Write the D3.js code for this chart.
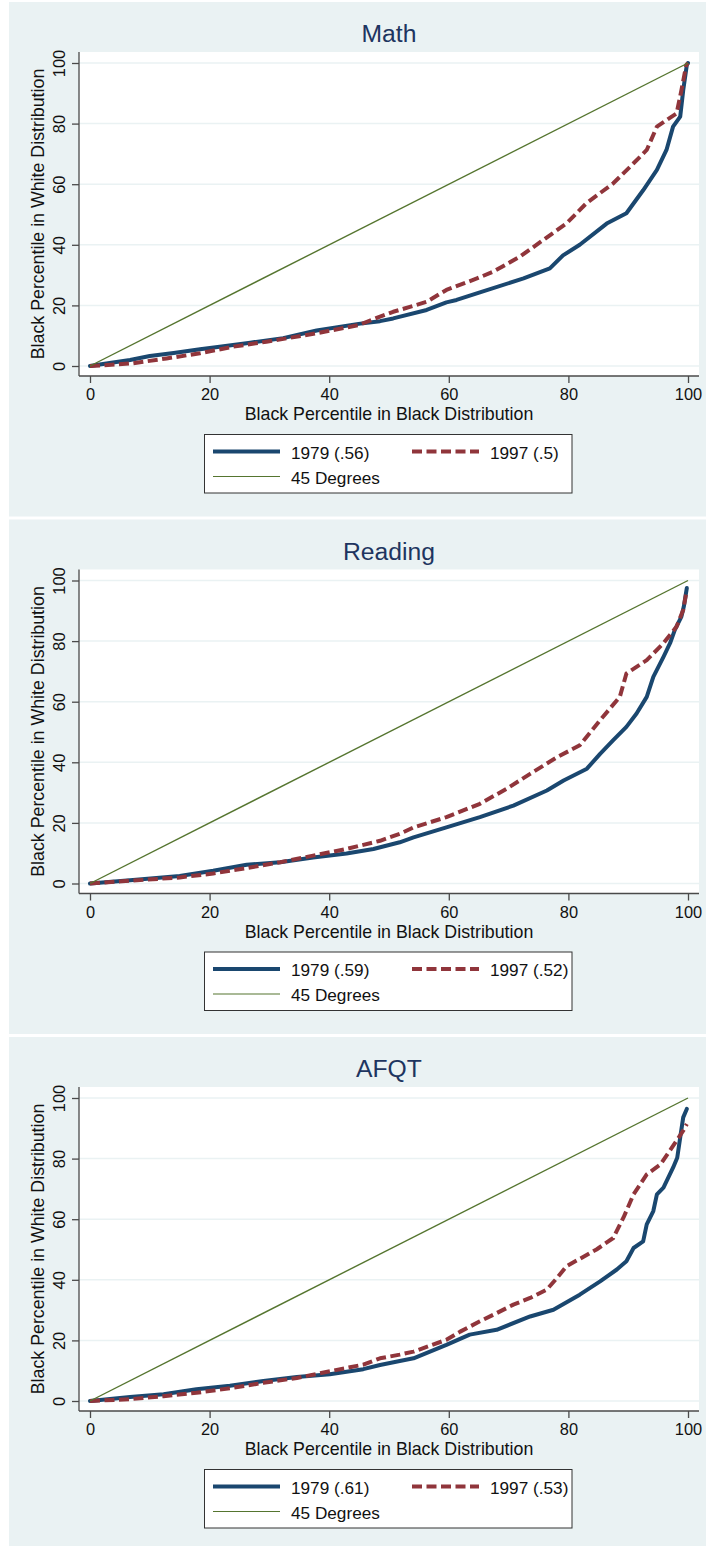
<!DOCTYPE html>
<html>
<head>
<meta charset="utf-8">
<script src="https://cdn.jsdelivr.net/npm/d3@7"></script>
<style>
  body { margin: 0; background: #fff; }
  svg { display: block; }
</style>
</head>
<body>
<div id="chart"></div>
<script>
// percentile pairs [black pct in black dist, black pct in white dist]
const math1979 = [[0,0],[3,0.9],[6.7,2],[10,3.3],[14,4.3],[18.4,5.5],[22,6.4],[26.8,7.7],[32.3,9.2],[37.9,11.7],[44.9,13.9],[48.5,14.8],[50.7,15.7],[56.3,18.5],[59.6,21],[61.3,21.8],[65.2,24.3],[72.5,28.9],[76.9,32.2],[79.1,36.5],[81.9,40],[86.4,47],[89.7,50.4],[92.5,58],[94.8,64.7],[96.4,71.3],[97.5,79],[98.7,82.3],[99.2,91],[99.8,99.3],[100,100]]
const math1997 = [[0,0],[3,0.3],[7.2,0.9],[12.8,2.5],[18.4,4.2],[24,6.4],[29.5,8],[37.9,10.8],[44.9,13.5],[48.5,16.3],[50.7,17.9],[54,19.8],[56.3,21.2],[59.6,25.1],[64.7,28.9],[67.4,31.1],[71.9,36.1],[75.8,41.6],[79.7,47.1],[83,53.7],[87.5,60.3],[90.9,66.9],[93.1,71.3],[94.8,79],[98.1,83.4],[98.9,91],[99.7,99.3],[100,100]]

const reading1979 = [[0,0],[6.7,1.1],[15,2.5],[20.6,4.2],[26.2,6.2],[31.8,7],[37.3,8.6],[42.9,9.9],[47.4,11.4],[51.8,13.6],[54.1,15.2],[59.6,18.5],[65.2,21.9],[70.8,25.7],[76.4,30.7],[79.2,34],[83.1,37.9],[85.3,42.8],[87.5,47.3],[89.7,51.7],[91.4,56.1],[93.1,61.6],[94.2,68.2],[95.9,74.8],[97,79.3],[97.8,83.7],[98.9,88.1],[99.3,91.4],[99.8,97.5]]
const reading1997 = [[0,0],[6.7,0.9],[15,2],[20.6,3.3],[26.2,5.1],[31.8,7],[37.3,9.2],[42.9,11.4],[48.5,14.1],[51.8,16.4],[54.1,18.5],[59.6,21.9],[65.2,26.3],[69.7,31.3],[73.6,36.2],[78.1,41.7],[81.9,45.6],[85.3,53.9],[88.6,61.6],[89.7,69.3],[93.1,73.7],[95.9,79.3],[98.1,84.8],[99.2,90.3],[99.7,95.8]]

const afqt1979 = [[0,0],[6.7,1.3],[12.3,2.2],[17.8,3.9],[23.4,5],[29,6.6],[34.6,7.9],[40.1,8.8],[45.7,10.5],[48.5,11.9],[51.8,13.2],[54.1,14.1],[59.6,18.5],[63.5,21.9],[68,23.5],[73.6,27.9],[77.5,30.1],[81.9,35.1],[85.3,39.5],[88.1,43.4],[89.7,46.1],[90.9,50.5],[92.5,52.7],[93.1,58.3],[94.2,62.7],[94.8,68.2],[95.9,70.4],[97.5,77],[98.2,80.3],[98.7,87],[99.2,93.6],[99.8,96.4]]
const afqt1997 = [[0,0],[6.7,0.6],[12.3,1.6],[17.8,2.7],[23.4,4.2],[29,6],[34.6,7.6],[40.1,9.8],[45.7,12],[48.5,14.1],[51.8,15.3],[54.1,16.3],[59.6,20.2],[61.9,22.9],[65.2,26.3],[68,29],[70.8,31.8],[73.6,34],[76.4,36.8],[78.1,40.6],[79.7,44.5],[84.7,50],[87.5,53.8],[89.2,60.5],[90.9,68.2],[93.1,74.8],[95.4,78.1],[97.5,84.2],[99.2,89.2],[99.8,91.4]]

const diagonal = [[0,0],[100,100]]

const titles = ['Math', 'Reading', 'AFQT']
const labels1979 = ['1979 (.56)', '1979 (.59)', '1979 (.61)']
const labels1997 = ['1997 (.5)', '1997 (.52)', '1997 (.53)']
const xTicks = [0, 20, 40, 60, 80, 100]
const yTicks = [0, 20, 40, 60, 80, 100]

const panels = titles.map((t, i) => ({
  title: t,
  s1979: [math1979, reading1979, afqt1979][i],
  s1997: [math1997, reading1997, afqt1997][i],
  l1979: labels1979[i],
  l1997: labels1997[i],
}))

const W = 706, H = 1546
const font = '"Liberation Sans", Arial, Helvetica, sans-serif'
const bg = '#eaf2f3'
const navy = '#1a476f', maroon = '#90353b', green = '#55752f'
const axisCol = '#4a4a4a'
const stride = 517.5

const svg = d3.select('#chart')
  .append('svg')
  .attr('width', W)
  .attr('height', H)
  .style('font-family', font)

const x = d3.scaleLinear().domain([0, 100]).range([90, 688])
const y = d3.scaleLinear().domain([0, 100]).range([366, 63])
const plot = { left: 79, right: 699, top: 52, bottom: 376 }

const line = d3.line()
  .x((d) => x(d[0]))
  .y((d) => y(d[1]))

panels.forEach((p, i) => {
  const g = svg.append('g').attr('transform', `translate(0,${i * stride})`)

  // panel background + white plot region
  g.append('rect')
    .attr('x', 9).attr('y', 2)
    .attr('width', W - 9).attr('height', 514.5)
    .attr('fill', bg)
  g.append('rect')
    .attr('x', plot.left).attr('y', plot.top)
    .attr('width', plot.right - plot.left).attr('height', plot.bottom - plot.top)
    .attr('fill', '#fff')

  // horizontal grid
  g.append('g')
    .selectAll('line')
    .data(yTicks)
    .join('line')
    .attr('x1', plot.left).attr('x2', plot.right)
    .attr('y1', (d) => y(d)).attr('y2', (d) => y(d))
    .attr('stroke', bg)
    .attr('stroke-width', 1.5)

  // series
  g.append('path')
    .attr('d', line(p.s1979))
    .attr('fill', 'none')
    .attr('stroke', navy)
    .attr('stroke-width', 4)
    .attr('stroke-linejoin', 'round')
    .attr('stroke-linecap', 'round')
  g.append('path')
    .attr('d', line(p.s1997))
    .attr('fill', 'none')
    .attr('stroke', maroon)
    .attr('stroke-width', 4)
    .attr('stroke-dasharray', '10,4.5')
    .attr('stroke-linejoin', 'round')
  g.append('path')
    .attr('d', line(diagonal))
    .attr('fill', 'none')
    .attr('stroke', green)
    .attr('stroke-width', 1.4)

  // axes
  const xAxis = g.append('g')
    .attr('transform', `translate(0,${plot.bottom})`)
    .call(d3.axisBottom(x).tickValues(xTicks).tickSize(7).tickSizeOuter(0))
    .attr('font-family', font)
  xAxis.select('.domain').remove()
  xAxis.selectAll('.tick line').attr('stroke', axisCol).attr('stroke-width', 1.3)
  xAxis.selectAll('.tick text')
    .attr('y', 24).attr('dy', null)
    .attr('font-size', 16.4)
    .attr('fill', '#111')

  const yAxis = g.append('g')
    .attr('transform', `translate(${plot.left},0)`)
    .call(d3.axisLeft(y).tickValues(yTicks).tickSize(7).tickSizeOuter(0))
    .attr('font-family', font)
  yAxis.select('.domain').remove()
  yAxis.selectAll('.tick line').attr('stroke', axisCol).attr('stroke-width', 1.3)
  yAxis.selectAll('.tick text')
    .attr('transform', 'rotate(-90)')
    .attr('x', 0).attr('y', -14).attr('dy', null)
    .attr('text-anchor', 'middle')
    .attr('font-size', 16.4)
    .attr('fill', '#111')

  g.append('line')
    .attr('x1', plot.left).attr('x2', plot.right)
    .attr('y1', plot.bottom).attr('y2', plot.bottom)
    .attr('stroke', axisCol).attr('stroke-width', 1.3)
  g.append('line')
    .attr('x1', plot.left).attr('x2', plot.left)
    .attr('y1', plot.top).attr('y2', plot.bottom)
    .attr('stroke', axisCol).attr('stroke-width', 1.3)

  // titles
  const cx = (plot.left + plot.right) / 2
  g.append('text')
    .attr('x', cx).attr('y', 42)
    .attr('text-anchor', 'middle')
    .attr('font-size', 24.7)
    .attr('fill', '#1e3560')
    .text(p.title)
  g.append('text')
    .attr('x', cx).attr('y', 420)
    .attr('text-anchor', 'middle')
    .attr('font-size', 17.8)
    .attr('fill', '#111')
    .text('Black Percentile in Black Distribution')
  g.append('text')
    .attr('transform', `translate(44,${(plot.top + plot.bottom) / 2}) rotate(-90)`)
    .attr('text-anchor', 'middle')
    .attr('font-size', 17.8)
    .attr('fill', '#111')
    .text('Black Percentile in White Distribution')

  // legend
  const lg = g.append('g')
  lg.append('rect')
    .attr('x', 204.5).attr('y', 434.5)
    .attr('width', 367.5).attr('height', 58.5)
    .attr('fill', '#fff')
    .attr('stroke', '#333')
    .attr('stroke-width', 1)
  const keys = [
    { label: p.l1979, color: navy, w: 4, dash: null, x0: 213, row: 0 },
    { label: p.l1997, color: maroon, w: 4, dash: '10,4.5', x0: 412, row: 0 },
    { label: '45 Degrees', color: green, w: 1.1, dash: null, x0: 213, row: 1 },
  ]
  keys.forEach((k) => {
    const ly = 451.5 + k.row * 25
    lg.append('line')
      .attr('x1', k.x0).attr('x2', k.x0 + 67)
      .attr('y1', ly).attr('y2', ly)
      .attr('stroke', k.color)
      .attr('stroke-width', k.w)
      .attr('stroke-dasharray', k.dash)
    lg.append('text')
      .attr('x', k.x0 + 78).attr('y', ly + 7)
      .attr('font-size', 17.2)
      .attr('fill', '#111')
      .text(k.label)
  })
})
</script>
</body>
</html>
